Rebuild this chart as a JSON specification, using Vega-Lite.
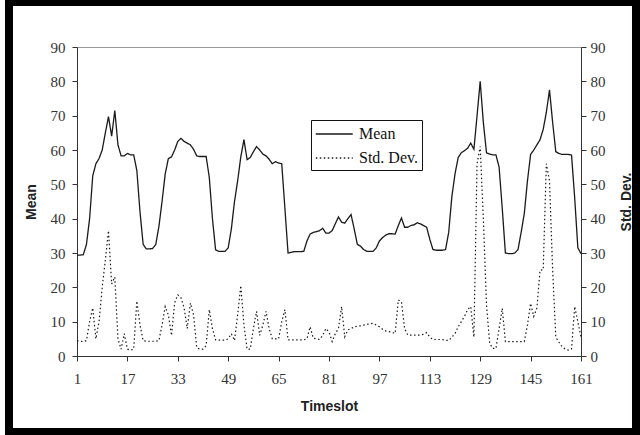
{
  "$schema": "https://vega.github.io/schema/vega-lite/v6.json",
  "width": 504,
  "height": 309,
  "autosize": {"type": "none"},
  "padding": {"left": 77, "top": 47, "right": 59, "bottom": 79},
  "background": "white",
  "config": {
    "view": {"stroke": "#9a9a9a", "strokeWidth": 1},
    "axis": {
      "grid": false,
      "domainColor": "#333",
      "tickColor": "#333",
      "tickSize": 5,
      "labelFont": "Liberation Serif",
      "labelFontSize": 15,
      "labelColor": "#333",
      "titleFont": "Liberation Sans",
      "titleFontSize": 14,
      "titleFontWeight": "bold",
      "titleColor": "#222"
    },
    "legend": {
      "labelFont": "Liberation Serif",
      "labelFontSize": 16,
      "labelColor": "#111"
    }
  },
  "data": {
    "values": [
      {"t":1,"mean":29.4,"sd":4.5},{"t":2,"mean":29.4,"sd":4.3},{"t":3,"mean":29.5,"sd":4.2},{"t":4,"mean":32.5,"sd":4.5},{"t":5,"mean":40,"sd":10},
      {"t":6,"mean":52.5,"sd":14},{"t":7,"mean":56,"sd":5},{"t":8,"mean":57.5,"sd":10},{"t":9,"mean":60,"sd":20},{"t":10,"mean":65,"sd":28},
      {"t":11,"mean":69.7,"sd":36.5},{"t":12,"mean":64,"sd":21},{"t":13,"mean":71.5,"sd":23},{"t":14,"mean":61.5,"sd":5},{"t":15,"mean":58.3,"sd":2},
      {"t":16,"mean":58.3,"sd":6.5},{"t":17,"mean":59,"sd":2},{"t":18,"mean":58.6,"sd":1.7},{"t":19,"mean":58.6,"sd":2},{"t":20,"mean":54,"sd":16},
      {"t":21,"mean":42,"sd":9},{"t":22,"mean":32.5,"sd":4.5},{"t":23,"mean":31.2,"sd":4.3},{"t":24,"mean":31.2,"sd":4.3},{"t":25,"mean":31.3,"sd":4.3},
      {"t":26,"mean":32.5,"sd":4.3},{"t":27,"mean":37.7,"sd":4.5},{"t":28,"mean":45,"sd":9},{"t":29,"mean":53,"sd":14.4},{"t":30,"mean":57.5,"sd":12},
      {"t":31,"mean":58,"sd":6},{"t":32,"mean":60,"sd":15.5},{"t":33,"mean":62.5,"sd":17.8},{"t":34,"mean":63.4,"sd":17},{"t":35,"mean":62.5,"sd":14},
      {"t":36,"mean":62,"sd":8},{"t":37,"mean":61.5,"sd":15.4},{"t":38,"mean":60.2,"sd":12},{"t":39,"mean":58.3,"sd":2.5},{"t":40,"mean":58.1,"sd":2},
      {"t":41,"mean":58.1,"sd":2},{"t":42,"mean":58.1,"sd":3},{"t":43,"mean":52,"sd":13.5},{"t":44,"mean":40,"sd":8},{"t":45,"mean":30.9,"sd":4.7},
      {"t":46,"mean":30.5,"sd":4.6},{"t":47,"mean":30.5,"sd":4.6},{"t":48,"mean":30.5,"sd":4.6},{"t":49,"mean":31.5,"sd":5},{"t":50,"mean":37,"sd":6.5},
      {"t":51,"mean":45,"sd":4.5},{"t":52,"mean":51,"sd":12},{"t":53,"mean":58,"sd":20.5},{"t":54,"mean":63,"sd":9},{"t":55,"mean":57.2,"sd":2},
      {"t":56,"mean":57.8,"sd":2},{"t":57,"mean":59.5,"sd":8},{"t":58,"mean":61,"sd":13},{"t":59,"mean":60,"sd":6},{"t":60,"mean":58.8,"sd":9},
      {"t":61,"mean":58.3,"sd":13},{"t":62,"mean":57.3,"sd":8},{"t":63,"mean":56,"sd":5},{"t":64,"mean":56.6,"sd":5},{"t":65,"mean":56.2,"sd":5},
      {"t":66,"mean":56,"sd":10},{"t":67,"mean":43,"sd":13.5},{"t":68,"mean":30,"sd":4.7},{"t":69,"mean":30.2,"sd":4.7},{"t":70,"mean":30.4,"sd":4.7},
      {"t":71,"mean":30.4,"sd":4.7},{"t":72,"mean":30.4,"sd":4.7},{"t":73,"mean":30.5,"sd":4.7},{"t":74,"mean":33.5,"sd":5},{"t":75,"mean":35.5,"sd":8.5},
      {"t":76,"mean":36,"sd":5.2},{"t":77,"mean":36.2,"sd":5},{"t":78,"mean":36.5,"sd":4.8},{"t":79,"mean":37.2,"sd":6},{"t":80,"mean":35.8,"sd":8},
      {"t":81,"mean":35.8,"sd":7},{"t":82,"mean":36.5,"sd":4.2},{"t":83,"mean":38.5,"sd":6.5},{"t":84,"mean":40.5,"sd":8},{"t":85,"mean":39,"sd":14.4},
      {"t":86,"mean":38.7,"sd":5.6},{"t":87,"mean":40,"sd":7.6},{"t":88,"mean":41.2,"sd":8},{"t":89,"mean":37,"sd":8.5},{"t":90,"mean":32.5,"sd":8.7},
      {"t":91,"mean":32,"sd":8.8},{"t":92,"mean":31,"sd":9},{"t":93,"mean":30.5,"sd":9.2},{"t":94,"mean":30.5,"sd":9.4},{"t":95,"mean":30.5,"sd":9.5},
      {"t":96,"mean":31.5,"sd":9},{"t":97,"mean":33.5,"sd":8.5},{"t":98,"mean":34.5,"sd":7.8},{"t":99,"mean":35.2,"sd":7.3},{"t":100,"mean":35.6,"sd":7.1},
      {"t":101,"mean":35.6,"sd":6.9},{"t":102,"mean":35.5,"sd":6.6},{"t":103,"mean":38,"sd":16.3},{"t":104,"mean":40.2,"sd":15.8},{"t":105,"mean":37.5,"sd":8},
      {"t":106,"mean":37.5,"sd":6.1},{"t":107,"mean":38,"sd":6.1},{"t":108,"mean":38.2,"sd":6.1},{"t":109,"mean":38.8,"sd":6.1},{"t":110,"mean":38.5,"sd":6.1},
      {"t":111,"mean":38,"sd":6.3},{"t":112,"mean":37.5,"sd":6.8},{"t":113,"mean":34,"sd":5.5},{"t":114,"mean":31,"sd":4.8},{"t":115,"mean":30.8,"sd":4.8},
      {"t":116,"mean":30.8,"sd":4.8},{"t":117,"mean":30.8,"sd":4.8},{"t":118,"mean":31,"sd":4.6},{"t":119,"mean":36,"sd":4.5},{"t":120,"mean":46.4,"sd":5.5},
      {"t":121,"mean":53,"sd":6.5},{"t":122,"mean":57.8,"sd":8.5},{"t":123,"mean":59.2,"sd":10},{"t":124,"mean":59.8,"sd":11.5},{"t":125,"mean":60.5,"sd":13.5},
      {"t":126,"mean":62,"sd":14.4},{"t":127,"mean":60.2,"sd":5.5},{"t":128,"mean":70,"sd":56},{"t":129,"mean":80,"sd":61},{"t":130,"mean":68,"sd":40},
      {"t":131,"mean":59.2,"sd":15},{"t":132,"mean":58.8,"sd":3.7},{"t":133,"mean":58.6,"sd":2.2},{"t":134,"mean":58.6,"sd":2.2},{"t":135,"mean":55,"sd":8},
      {"t":136,"mean":43,"sd":13.9},{"t":137,"mean":30,"sd":4.2},{"t":138,"mean":29.8,"sd":4.2},{"t":139,"mean":29.8,"sd":4.2},{"t":140,"mean":30,"sd":4.2},
      {"t":141,"mean":31,"sd":4.2},{"t":142,"mean":36,"sd":4.2},{"t":143,"mean":41.5,"sd":4.2},{"t":144,"mean":51,"sd":9},{"t":145,"mean":58.7,"sd":15.3},
      {"t":146,"mean":60,"sd":11.5},{"t":147,"mean":61.5,"sd":14},{"t":148,"mean":63,"sd":25},{"t":149,"mean":66,"sd":25.1},{"t":150,"mean":71,"sd":56},
      {"t":151,"mean":77.5,"sd":51},{"t":152,"mean":68,"sd":25},{"t":153,"mean":59.5,"sd":5.5},{"t":154,"mean":59,"sd":4},{"t":155,"mean":58.7,"sd":2.7},
      {"t":156,"mean":58.7,"sd":2},{"t":157,"mean":58.7,"sd":1.7},{"t":158,"mean":58.5,"sd":2},{"t":159,"mean":46,"sd":14.4},{"t":160,"mean":31.5,"sd":10},
      {"t":161,"mean":29.8,"sd":5.5}
    ]
  },
  "layer": [
    {
      "mark": {"type": "line", "stroke": "#1a1a1a", "strokeWidth": 1.3},
      "encoding": {
        "x": {
          "field": "t", "type": "quantitative",
          "scale": {"domain": [1, 161], "nice": false, "zero": false},
          "axis": {"values": [1,17,33,49,65,81,97,113,129,145,161], "title": "Timeslot", "labelPadding": 10, "titlePadding": 13, "labelFlush": false}
        },
        "y": {
          "field": "mean", "type": "quantitative",
          "scale": {"domain": [0, 90], "nice": false},
          "axis": {"orient": "left", "values": [0,10,20,30,40,50,60,70,80,90], "title": "Mean", "labelPadding": 7, "titlePadding": 12}
        },
        "strokeDash": {
          "datum": "Mean",
          "scale": {"domain": ["Mean", "Std. Dev."], "range": [[1, 0], [1.5, 2.5]]},
          "legend": {
            "title": null,
            "orient": "none",
            "legendX": 234,
            "legendY": 73,
            "direction": "vertical",
            "strokeColor": "#111",
            "fillColor": "white",
            "padding": 4,
            "rowPadding": 6,
            "symbolType": "M-1,0H3",
            "symbolSize": 342,
            "symbolStrokeColor": "#111",
            "symbolStrokeWidth": 1.3,
            "labelOffset": 24
          }
        }
      }
    },
    {
      "mark": {"type": "line", "stroke": "#1a1a1a", "strokeWidth": 1.2},
      "encoding": {
        "x": {"field": "t", "type": "quantitative", "scale": {"domain": [1, 161], "nice": false, "zero": false}},
        "y": {
          "field": "sd", "type": "quantitative",
          "scale": {"domain": [0, 90], "nice": false},
          "axis": {"orient": "right", "values": [0,10,20,30,40,50,60,70,80,90], "title": "Std. Dev.", "titleAngle": -90, "titleBaseline": "top", "labelPadding": 4, "titlePadding": 14}
        },
        "strokeDash": {"datum": "Std. Dev."}
      }
    },
    {
      "data": {"values": [{}]},
      "mark": {"type": "rect", "filled": false, "stroke": "black", "strokeWidth": 8, "clip": false},
      "encoding": {
        "x": {"datum": -20.59, "type": "quantitative", "scale": {"domain": [1, 161], "nice": false, "zero": false}},
        "x2": {"datum": 178.46},
        "y": {"datum": 103.1, "type": "quantitative", "scale": {"domain": [0, 90], "nice": false}, "axis": null},
        "y2": {"datum": -22.14}
      }
    }
  ],
  "resolve": {"scale": {"y": "independent"}}
}
